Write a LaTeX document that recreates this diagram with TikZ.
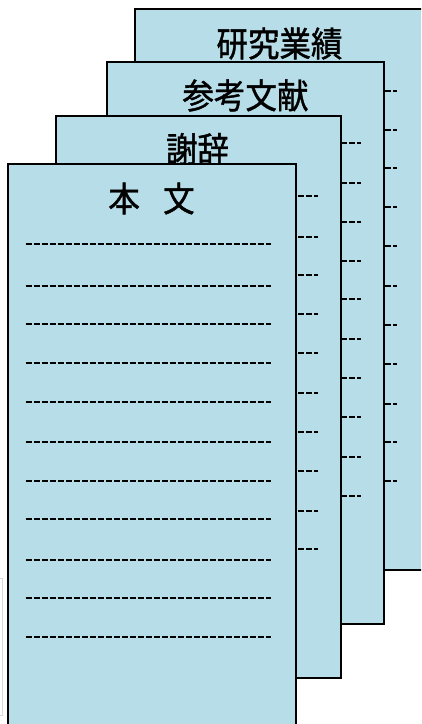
\documentclass[tikz,border=0pt]{standalone}
\usepackage{fontspec}
\newfontfamily\jp[WordSpace=3.3,FakeBold=1.2]{Noto Sans CJK JP}
\definecolor{pagefill}{HTML}{B7DDE8}
\begin{document}
\begin{tikzpicture}[x=1pt,y=-1pt,
  page/.style={fill=pagefill, draw=black, line width=1.6pt},
  rule/.style={line width=2.4pt, dash pattern=on 6pt off 2pt},
  title/.style={font=\jp\fontsize{31.5}{34}\selectfont, inner sep=0pt}]
\useasboundingbox (0,0) rectangle (421,724);
\clip (0,0) rectangle (421,724);
% faint frame at the left edge
\draw[gray!30, line width=0.8pt, fill=white] (-10,578) rectangle (2.5,715);
% page 4
\draw[page] (135,9) rectangle (423,570);
\foreach \y in {91,130,168,207,246,286,325,364,404,442,481}
  \draw[rule] (153,\y) -- (397,\y);
\node[title] (t4) at (279.5,43.5) {\scalebox{1}[1.1]{研究業績}};
% page 3
\draw[page] (107,62) rectangle (384,624);
\foreach \y in {143,183,222,261,299,339,378,417,457,496}
  \draw[rule] (125,\y) -- (361,\y);
\node[title] (t3) at (245.5,95.5) {\scalebox{1}[1.1]{参考文献}};
% page 2
\draw[page] (56,116) rectangle (341,678);
\foreach \y in {196,237,275,314,353,393,432,471,511,549}
  \draw[rule] (74,\y) -- (318,\y);
\node[title] (t2) at (197.5,149) {\scalebox{1}[1.1]{謝辞}};
% page 1
\draw[page] (8,164) rectangle (296,728);
\foreach \y in {244,286,324,363,402,442,481,519,560,598,637}
  \draw[rule] (25.7,\y) -- (271,\y);
\node[title] (t1) at (151.5,198.5) {\scalebox{1}[1.1]{本 文}};
\end{tikzpicture}
\end{document}
